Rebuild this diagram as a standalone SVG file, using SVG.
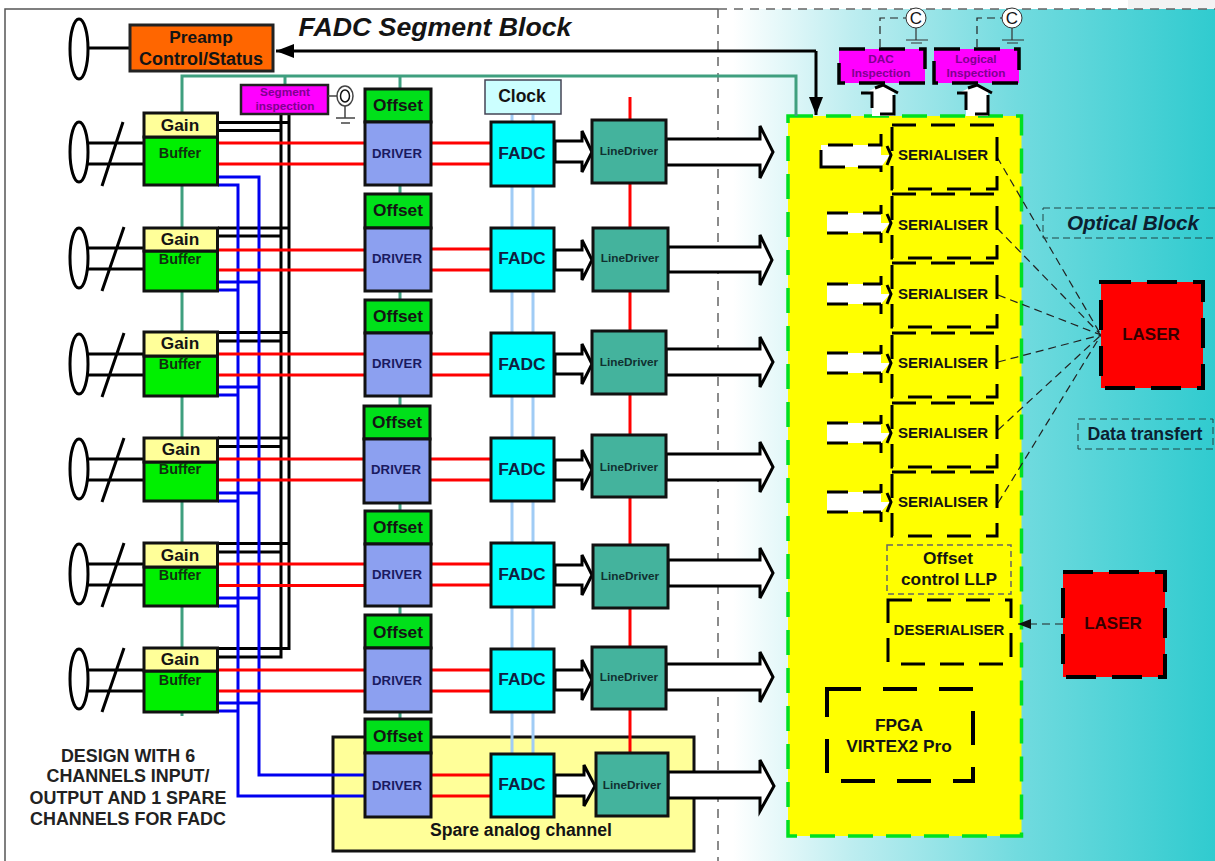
<svg xmlns="http://www.w3.org/2000/svg" width="1215" height="861" viewBox="0 0 1215 861">
<defs>
<linearGradient id="bg" x1="0" y1="0" x2="1" y2="0"><stop offset="0" stop-color="#fff"/><stop offset=".03" stop-color="#fff"/><stop offset=".27" stop-color="#bdedf0"/><stop offset=".6" stop-color="#72dbdf"/><stop offset="1" stop-color="#30cbcf"/></linearGradient>
<marker id="ah" markerWidth="20" markerHeight="14" refX="18" refY="7" orient="auto" markerUnits="userSpaceOnUse"><path d="M0 0L18 7L0 14Z" fill="#000"/></marker>
<marker id="as" markerWidth="14" markerHeight="10" refX="13" refY="5" orient="auto" markerUnits="userSpaceOnUse"><path d="M0 0L13 5L0 10Z" fill="#111"/></marker>
<g id="small-arrow">
<path d="M827 -10H881V0L890 0L881 10H827Z" fill="#fff"/>
<path d="M827 -10H881M827 10H881" fill="none" stroke="#000" stroke-width="3" stroke-dasharray="21 15"/>
<path d="M881 -18V-9M887 -9L891 0L887 10M881 10V20" fill="none" stroke="#000" stroke-width="3"/>
</g>
</defs>
<style>
text{font-family:"Liberation Sans",Arial,sans-serif;font-weight:700;text-anchor:middle;fill:#141414}
.gain{fill:#ffff99}.buf{fill:#00f000}.off{fill:#00e01a}.drv{fill:#8ca0f0}.fadc{fill:#00ffff}.ld{fill:#44b39d}
.box{stroke:#111;stroke-width:3}
.red{stroke:#f00;stroke-width:3;fill:none}.blue{stroke:#0000f0;stroke-width:3;fill:none}.blk{stroke:#000;stroke-width:3;fill:none}.teal{stroke:#3f9f7f;stroke-width:3;fill:none}.lb{stroke:#a0ccf5;stroke-width:3;fill:none}
.arr{fill:#fff;stroke:#000;stroke-width:3;stroke-linejoin:miter}
.ser{fill:#ffff00;stroke:#000;stroke-width:3;stroke-dasharray:24 15}
.thin{fill:none;stroke:#222;stroke-width:1.200;stroke-dasharray:8 5}
.mg{fill:#ff00ff}.mt{fill:#800090;font-size:11.800px}
.laser{fill:#f00;stroke:#000;stroke-width:4;stroke-dasharray:30 16}
.g18{font-size:17.300px}.dr{font-size:13.200px;fill:#1a1a60}.f{font-size:17.400px;fill:#102040}.l{font-size:11.800px;fill:#103030}.bt{font-size:14.400px;fill:#103010}
.sl{font-size:15px}.note{font-size:17.900px;fill:#222}
</style>
<rect width="1215" height="861" fill="#fff"/>
<rect x="1128" y="0" width="87" height="9" fill="#f3f3f3"/>
<rect id="optical-background" x="718" y="9" width="497" height="852" fill="url(#bg)"/>
<path id="frame" d="M5 861V9H718" fill="none" stroke="#555" stroke-width="1.500"/>
<path id="divider" d="M718 9V861M718 9H1215" fill="none" stroke="#666" stroke-width="1.500" stroke-dasharray="9 7"/>
<text x="435" y="36" style="font-size:26.700px;font-style:italic">FADC Segment Block</text>

<g id="spare-channel"><rect x="333" y="737" width="361" height="114" fill="#ffff99" stroke="#111" stroke-width="3"/><text x="521" y="836" style="font-size:17.600px">Spare analog channel</text></g>
<rect id="fpga-board" x="788" y="116" width="233.500" height="720" fill="#ffff00" stroke="#00e020" stroke-width="3.500" stroke-dasharray="25 13"/>

<g id="connectors">
<path class="teal" d="M182 113V76H796V116M285 76V85M400 76V89M182 185V228M182 291V332M182 396V438M182 501V543M182 606V648M182 712V716M400 185V193M400 291V300M400 396V406M400 503V511M400 606V615M400 712V719"/>
<path class="lb" d="M512 114V754M533 114V754"/>
<path d="M630 97V753" stroke="#f00" stroke-width="3" fill="none"/>
<path class="blk" d="M88 48H130"/>
<path class="blk" d="M816 51H276" marker-end="url(#ah)"/>
<path class="blk" d="M816 51V115" marker-end="url(#ah)"/>
<path class="blk" d="M88 143H144M88 164H144M123 122L102 186M88 248H144M88 269H144M124 227L102 291M88 354H144M88 375H144M124 333L102 397M88 459H144M88 480H144M124 438L102 502M88 564H144M88 585H144M124 543L102 607M88 670H144M88 691H144M124 648L102 712"/>
<path class="blk" d="M281 114V657H218M289 114V648.500H218M218 122.500H289M218 130.500H281M218 228H289M218 236H281M218 332.500H289M218 341H281M218 438H289M218 446.500H281M218 543.500H289M218 552H281"/>
<path class="blue" d="M218 177H259V775H365M218 185H238V796H365M218 282H259M218 290H238M218 387H259M218 395H238M218 493H259M218 501H238M218 598H259M218 606H238M218 703H259M218 711H238"/>
<path class="red" d="M218 143H365M218 164H365M218 250H365M218 270H365M218 354H365M218 375H365M218 459H365M218 480H365M218 564H365M218 585.500H365M218 670H365M218 691H365"/>
<path class="red" d="M431 143H491M431 164H491M431 249H491M431 270H491M431 354H491M431 375H491M431 459H491M431 480H491M431 564H491M431 585H491M431 670H491M431 691H491M431 775H491M431 796H491"/>
<g id="fadc-arrows">
<path class="arr" d="M555 141H582V131L592 152L582 172V162H555Z"/>
<path class="arr" d="M555 250H582V240L592 260L582 280V270H555Z"/>
<path class="arr" d="M555 354H582V344L592 364L582 384V374H555Z"/>
<path class="arr" d="M555 460H582V450L592 470L582 490V480H555Z"/>
<path class="arr" d="M555 565H582V555L592 575L582 595V585H555Z"/>
<path class="arr" d="M555 670H582V660L592 680L582 700V690H555Z"/>
<path class="arr" d="M555 775H584V765L595 786L584 806V796H555Z"/>
</g>
<g id="output-arrows">
<path class="arr" d="M666 139H760V126L773 152L760 178V165H666Z"/>
<path class="arr" d="M668 247H760V235L772 260L760 285V272H668Z"/>
<path class="arr" d="M666 349H760V337L773 362L760 387V375H666Z"/>
<path class="arr" d="M666 454H760V442L773 467L760 492V480H666Z"/>
<path class="arr" d="M668 560H760V548L773 573L760 598V586H668Z"/>
<path class="arr" d="M666 664H760V652L773 677L760 702V690H666Z"/>
<path class="arr" d="M668 772H760V760L774 786L760 811V798H668Z"/>
</g>
<g id="optical-links">
<path class="thin" d="M997 157L1101 335M997 228L1101 335M998 295L1101 335M998 362L1101 335M998 430L1101 335M998 503L1101 335"/>
<path class="thin" d="M1063 624H1018" marker-end="url(#as)"/>
<path class="thin" d="M880 47V18H906M977 47V18H1002"/>
</g>
</g>

<g id="preamp"><ellipse cx="79" cy="49" rx="9" ry="30" fill="#fff" stroke="#000" stroke-width="3"/><rect x="130" y="25" width="143" height="46" fill="#ff6600" stroke="#222" stroke-width="3"/><text x="201" y="43" class="g18">Preamp</text><text x="201" y="65" style="font-size:18px">Control/Status</text></g>
<g id="inputs" fill="#fff" stroke="#000" stroke-width="3">
<ellipse cx="79" cy="152" rx="9" ry="30"/><ellipse cx="79" cy="258" rx="9" ry="30"/><ellipse cx="79" cy="364" rx="9" ry="30"/><ellipse cx="79" cy="469" rx="9" ry="30"/><ellipse cx="79" cy="574" rx="9" ry="30"/><ellipse cx="79" cy="679" rx="9" ry="30"/>
</g>
<g id="segment-inspection"><rect class="mg" x="241" y="85" width="87" height="29" stroke="#222" stroke-width="2.500"/><text class="mt" x="285" y="96">Segment</text><text class="mt" x="285" y="110">inspection</text>
<g fill="none" stroke="#444" stroke-width="1.500"><path d="M328 96H337M345 106V118M336 118H355M341 123H350"/><ellipse cx="345" cy="96" rx="8" ry="10"/><ellipse cx="345" cy="96" rx="4.500" ry="6" stroke="#111"/></g></g>

<g id="gain-buffer-1"><rect class="buf box" x="144" y="137" width="73.500" height="48"/><rect class="gain box" x="144" y="113" width="73.500" height="24"/><text x="180" y="131" class="g18">Gain</text><text x="180" y="158" class="bt">Buffer</text></g>
<g id="gain-buffer-2"><rect class="buf box" x="144" y="251" width="73.500" height="40"/><rect class="gain box" x="144" y="228" width="73.500" height="23"/><text x="180" y="245" class="g18">Gain</text><text x="180" y="264" class="bt">Buffer</text></g>
<g id="gain-buffer-3"><rect class="buf box" x="144" y="356" width="73.500" height="40"/><rect class="gain box" x="144" y="332" width="73.500" height="24"/><text x="180" y="349" class="g18">Gain</text><text x="180" y="369" class="bt">Buffer</text></g>
<g id="gain-buffer-4"><rect class="buf box" x="144" y="462" width="73.500" height="39"/><rect class="gain box" x="144" y="438" width="73.500" height="24"/><text x="181" y="455" class="g18">Gain</text><text x="180" y="474" class="bt">Buffer</text></g>
<g id="gain-buffer-5"><rect class="buf box" x="144" y="567" width="73.500" height="39"/><rect class="gain box" x="144" y="543" width="73.500" height="24"/><text x="180" y="561" class="g18">Gain</text><text x="180" y="580" class="bt">Buffer</text></g>
<g id="gain-buffer-6"><rect class="buf box" x="144" y="671" width="73.500" height="41"/><rect class="gain box" x="144" y="648" width="73.500" height="23"/><text x="180" y="665" class="g18">Gain</text><text x="180" y="685" class="bt">Buffer</text></g>

<g id="driver-1"><rect class="off box" x="365" y="89" width="66" height="33"/><rect class="drv box" x="365" y="122" width="66" height="63"/><text x="398" y="111" class="g18">Offset</text><text x="397" y="158" class="dr">DRIVER</text></g>
<g id="driver-2"><rect class="off box" x="365" y="194" width="66" height="34"/><rect class="drv box" x="365" y="228" width="66" height="63"/><text x="398" y="216" class="g18">Offset</text><text x="397" y="263" class="dr">DRIVER</text></g>
<g id="driver-3"><rect class="off box" x="365" y="300" width="66" height="33"/><rect class="drv box" x="365" y="333" width="66" height="63"/><text x="398" y="322" class="g18">Offset</text><text x="397" y="368" class="dr">DRIVER</text></g>
<g id="driver-4"><rect class="off box" x="364" y="406" width="66" height="33"/><rect class="drv box" x="364" y="439" width="66" height="64"/><text x="397" y="428" class="g18">Offset</text><text x="396" y="474" class="dr">DRIVER</text></g>
<g id="driver-5"><rect class="off box" x="365" y="511" width="66" height="33"/><rect class="drv box" x="365" y="544" width="66" height="62"/><text x="398" y="533" class="g18">Offset</text><text x="397" y="579" class="dr">DRIVER</text></g>
<g id="driver-6"><rect class="off box" x="365" y="615" width="66" height="33"/><rect class="drv box" x="365" y="648" width="66" height="64"/><text x="398" y="638" class="g18">Offset</text><text x="397" y="685" class="dr">DRIVER</text></g>
<g id="driver-spare"><rect class="off box" x="365" y="719" width="66" height="34"/><rect class="drv box" x="365" y="753" width="66" height="64"/><text x="398" y="742" class="g18">Offset</text><text x="397" y="790" class="dr">DRIVER</text></g>

<g id="clock"><rect x="485" y="80" width="76" height="34" fill="#ccffff" stroke="#445" stroke-width="1.500"/><text x="522" y="102" style="font-size:17.500px">Clock</text></g>
<g id="fadc-1"><rect class="fadc box" x="491" y="122" width="63" height="64"/><text x="522" y="159" class="f">FADC</text></g>
<g id="fadc-2"><rect class="fadc box" x="491" y="228" width="63" height="63"/><text x="522" y="264" class="f">FADC</text></g>
<g id="fadc-3"><rect class="fadc box" x="491" y="333" width="63" height="63"/><text x="522" y="370" class="f">FADC</text></g>
<g id="fadc-4"><rect class="fadc box" x="491" y="438" width="63" height="63"/><text x="522" y="475" class="f">FADC</text></g>
<g id="fadc-5"><rect class="fadc box" x="491" y="543" width="63" height="64"/><text x="522" y="580" class="f">FADC</text></g>
<g id="fadc-6"><rect class="fadc box" x="491" y="649" width="63" height="63"/><text x="522" y="685" class="f">FADC</text></g>
<g id="fadc-spare"><rect class="fadc box" x="491" y="754" width="63" height="63"/><text x="522" y="790" class="f">FADC</text></g>

<g id="linedriver-1"><rect class="ld box" x="592" y="120" width="74" height="63"/><text x="629" y="155" class="l">LineDriver</text></g>
<g id="linedriver-2"><rect class="ld box" x="593" y="228" width="75" height="63"/><text x="630" y="262" class="l">LineDriver</text></g>
<g id="linedriver-3"><rect class="ld box" x="592" y="331" width="74" height="63"/><text x="629" y="366" class="l">LineDriver</text></g>
<g id="linedriver-4"><rect class="ld box" x="592" y="435" width="74" height="62"/><text x="629" y="471" class="l">LineDriver</text></g>
<g id="linedriver-5"><rect class="ld box" x="593" y="545" width="75" height="63"/><text x="630" y="580" class="l">LineDriver</text></g>
<g id="linedriver-6"><rect class="ld box" x="592" y="647" width="74" height="62"/><text x="629" y="681" class="l">LineDriver</text></g>
<g id="linedriver-spare"><rect class="ld box" x="596" y="753" width="72" height="63"/><text x="632" y="789" class="l">LineDriver</text></g>

<g id="dac-inspection"><rect class="mg" x="839" y="49" width="86" height="34" stroke="#000" stroke-width="3.500" stroke-dasharray="26 14"/><text class="mt" x="881" y="63">DAC</text><text class="mt" x="881" y="77">Inspection</text>
<path fill="#fff" stroke="none" d="M872 116V93H865L883 84L899 93H894V116Z"/><path fill="none" stroke="#000" stroke-width="3" d="M861 93H872V108M880 114H894V95M898 93L883 85L875 88"/>
<g fill="none" stroke="#333" stroke-width="1.200"><path d="M916 28V40M906 40H928M911 43H922"/></g><circle cx="916" cy="18" r="10" fill="#fff" stroke="#333"/><text x="916" y="24" style="font-size:17px;font-weight:400">C</text></g>
<g id="logical-inspection"><rect class="mg" x="934" y="49" width="85" height="34" stroke="#000" stroke-width="3.500" stroke-dasharray="26 14"/><text class="mt" x="976" y="63">Logical</text><text class="mt" x="976" y="77">Inspection</text>
<path fill="#fff" stroke="none" d="M966 116V93H959L977 84L993 93H988V116Z"/><path fill="none" stroke="#000" stroke-width="3" d="M957 93H966V110M975 114H988V95M992 93L977 85L968 88"/>
<g fill="none" stroke="#333" stroke-width="1.200"><path d="M1012 28V40M1002 40H1024M1007 43H1018"/></g><circle cx="1012" cy="18" r="10" fill="#fff" stroke="#333"/><text x="1012" y="24" style="font-size:17px;font-weight:400">C</text></g>

<g id="serialiser-1"><rect class="ser" x="892" y="125" width="105" height="64"/><path d="M821 145H881V155H890L881 167H821Z" fill="#fff"/><path d="M828 145H853M868 145H881V134M821 150V167H845M858 167H881V172M887 146L891 155L887 165" fill="none" stroke="#000" stroke-width="3"/><text class="sl" x="943" y="160">SERIALISER</text></g>
<g id="serialiser-2"><rect class="ser" x="892" y="194" width="105" height="64"/><use href="#small-arrow" y="223"/><text class="sl" x="943" y="230">SERIALISER</text></g>
<g id="serialiser-3"><rect class="ser" x="892" y="263" width="105" height="64"/><use href="#small-arrow" y="294"/><text class="sl" x="943" y="299">SERIALISER</text></g>
<g id="serialiser-4"><rect class="ser" x="892" y="333" width="105" height="64"/><use href="#small-arrow" y="363"/><text class="sl" x="943" y="368">SERIALISER</text></g>
<g id="serialiser-5"><rect class="ser" x="892" y="403" width="105" height="64"/><use href="#small-arrow" y="433"/><text class="sl" x="943" y="438">SERIALISER</text></g>
<g id="serialiser-6"><rect class="ser" x="892" y="472" width="105" height="64"/><use href="#small-arrow" y="502"/><text class="sl" x="943" y="507">SERIALISER</text></g>

<g id="offset-control"><rect x="887" y="545" width="124" height="49" fill="none" stroke="#666" stroke-width="1.500" stroke-dasharray="6 4"/><text x="948" y="564" class="g18">Offset</text><text x="949" y="585" class="g18">control LLP</text></g>
<g id="deserialiser"><rect class="ser" x="888" y="600" width="123" height="64"/><text class="sl" x="949" y="635">DESERIALISER</text></g>
<g id="fpga"><rect x="827" y="689" width="146" height="92" fill="none" stroke="#000" stroke-width="4" stroke-dasharray="34 22"/><text x="899" y="731" class="g18">FPGA</text><text x="899" y="752" class="g18">VIRTEX2 Pro</text></g>
<g id="laser-1"><rect class="laser" x="1101" y="282" width="102" height="106"/><text x="1151" y="340" style="font-size:17px;fill:#300">LASER</text></g>
<g id="laser-2"><rect class="laser" x="1063" y="572" width="102" height="105"/><text x="1113" y="629" style="font-size:17px;fill:#300">LASER</text></g>
<g id="optical-block"><rect x="1043" y="208" width="180" height="30" fill="none" stroke="#244" stroke-width="1" stroke-dasharray="7 4"/><text x="1133" y="230" style="font-size:20.700px;font-style:italic;fill:#0c2030">Optical Block</text></g>
<g id="data-transfert"><rect x="1078" y="419" width="135" height="30" fill="none" stroke="#244" stroke-width="1" stroke-dasharray="7 4"/><text x="1145" y="440" style="font-size:17.700px;fill:#0c2030">Data transfert</text></g>
<g id="design-note"><text class="note" x="128" y="762">DESIGN WITH 6</text><text class="note" x="128" y="782">CHANNELS INPUT/</text><text class="note" x="128" y="804">OUTPUT AND 1 SPARE</text><text class="note" x="128" y="825">CHANNELS FOR FADC</text></g>
</svg>
